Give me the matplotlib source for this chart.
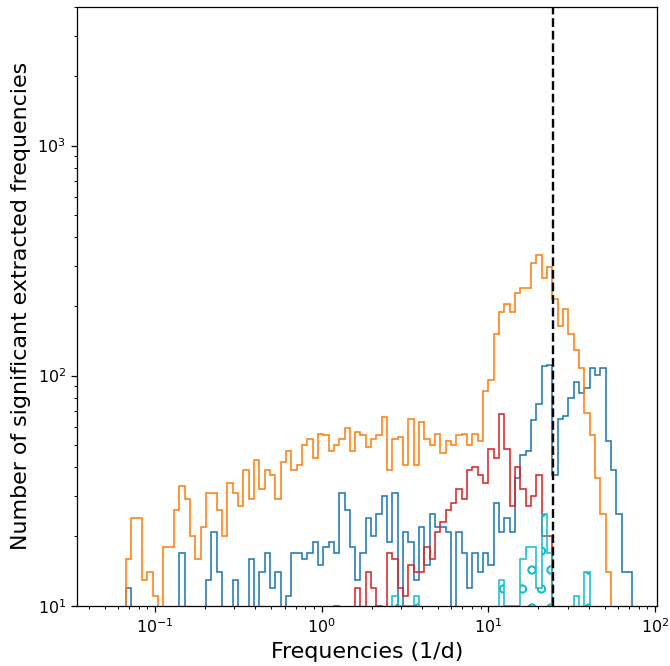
import numpy as np
import matplotlib
matplotlib.use('Agg')
import matplotlib.pyplot as plt

# log-spaced frequency bins (1/d) and the Nyquist limit
f_min, f_max, n_edges = 0.05, 73.2, 100
nyquist = 24.47

# counts of significant frequencies per bin, one list per sample
orange_counts = [0, 0, 0, 0, 16, 24, 24, 13, 14, 11,
                 0, 18, 18, 26, 33, 29, 20, 16, 22, 31,
                 31, 26, 20, 34, 31, 27, 39, 29, 43, 32,
                 39, 37, 29, 42, 47, 39, 41, 50, 53, 44,
                 56, 55, 47, 50, 53, 59, 47, 57, 55, 49,
                 53, 55, 66, 39, 53, 54, 41, 65, 41, 63,
                 53, 50, 56, 46, 52, 50, 55, 56, 50, 56,
                 52, 86, 96, 151, 189, 204, 189, 228, 241, 240,
                 308, 335, 265, 296, 215, 164, 194, 152, 129, 108,
                 69, 55, 36, 25, 14, 0, 0, 0, 0]
blue_counts = [0, 0, 0, 0, 12, 0, 0, 0, 0, 0,
               0, 0, 0, 0, 17, 0, 0, 0, 0, 13,
               21, 14, 0, 0, 13, 0, 0, 16, 0, 14,
               17, 12, 14, 0, 11, 17, 17, 16, 17, 19,
               15, 18, 19, 17, 31, 26, 18, 13, 17, 24,
               20, 25, 30, 19, 31, 0, 21, 19, 13, 22,
               15, 25, 22, 22, 21, 0, 21, 17, 12, 17,
               14, 17, 15, 28, 21, 24, 21, 36, 45, 47,
               64, 75, 110, 111, 37, 65, 67, 80, 94, 84,
               88, 108, 101, 108, 52, 39, 25, 14, 14]
red_counts = [0, 0, 0, 0, 0, 0, 0, 0, 0, 0,
              0, 0, 0, 0, 0, 0, 0, 0, 0, 0,
              0, 0, 0, 0, 0, 0, 0, 0, 0, 0,
              0, 0, 0, 0, 0, 0, 0, 0, 0, 0,
              0, 0, 0, 10, 0, 0, 0, 12, 0, 14,
              12, 10, 0, 17, 16, 12, 11, 15, 14, 14,
              18, 16, 21, 23, 26, 28, 32, 29, 39, 40,
              37, 34, 48, 44, 68, 48, 27, 40, 32, 27,
              30, 37, 20, 20, 0, 0, 0, 0, 0, 0,
              0, 0, 0, 0, 0, 0, 0, 0, 0]
cyan_counts = [0, 0, 0, 0, 0, 0, 0, 0, 0, 0,
               0, 0, 0, 0, 0, 0, 0, 0, 0, 0,
               0, 0, 0, 0, 0, 0, 0, 0, 0, 0,
               0, 0, 0, 0, 0, 0, 0, 0, 0, 0,
               0, 0, 0, 0, 0, 0, 0, 0, 0, 0,
               0, 0, 0, 0, 11, 10, 10, 10, 11, 0,
               0, 0, 0, 0, 0, 0, 0, 0, 0, 0,
               0, 0, 0, 0, 13, 10, 10, 10, 16, 18,
               18, 12, 25, 17, 0, 0, 0, 0, 11, 0,
               14, 0, 0, 0, 0, 0, 0, 0, 0]

edges = np.logspace(np.log10(f_min), np.log10(f_max), n_edges)
centers = np.sqrt(edges[:-1] * edges[1:])

dpi = 114
fig, ax = plt.subplots(figsize=(670 / dpi, 666 / dpi), dpi=dpi)
fig.subplots_adjust(left=0.1149, right=0.9806, bottom=0.0905, top=0.9895)

ax.set_xscale('log')
ax.set_yscale('log')

ax.hist(centers, bins=edges, weights=blue_counts, histtype='step', color='tab:blue')
ax.hist(centers, bins=edges, weights=orange_counts, histtype='step', color='tab:orange')
ax.hist(centers, bins=edges, weights=red_counts, histtype='step', color='tab:red')
ax.hist(centers, bins=edges, weights=cyan_counts, histtype='step', color='tab:cyan', hatch='o')

ax.axvline(nyquist, color='black', linestyle='--')

ax.set_xlim(0.0341, 103)
ax.set_ylim(10, 4000)
ax.set_xlabel('Frequencies (1/d)', fontsize=14)
ax.set_ylabel('Number of significant extracted frequencies', fontsize=14)

fig.savefig('out.png', dpi=dpi)
